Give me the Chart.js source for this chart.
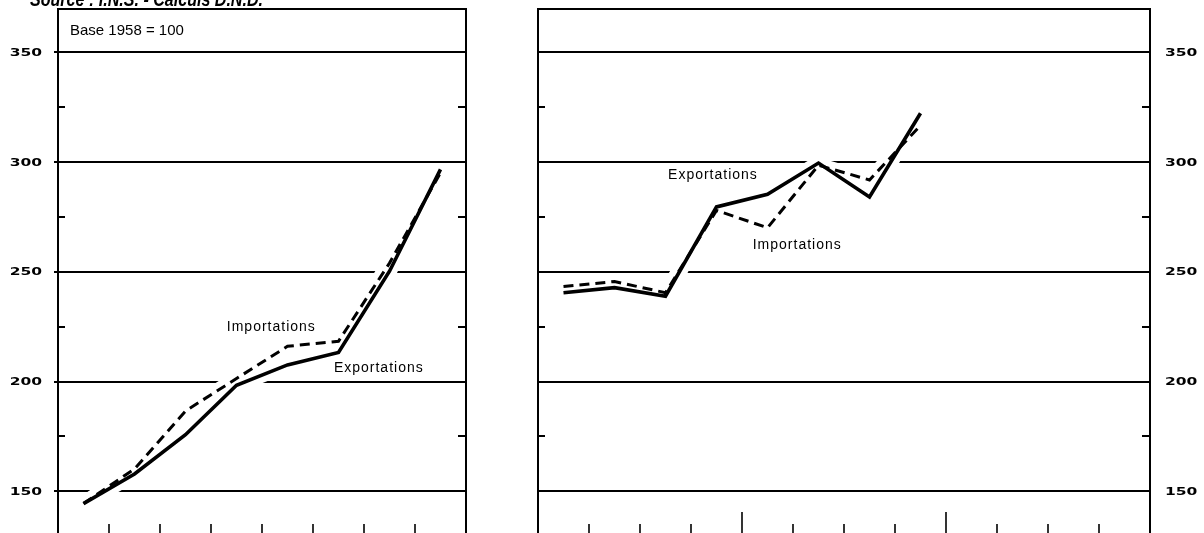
<!DOCTYPE html>
<html><head><meta charset="utf-8">
<script src="https://cdn.jsdelivr.net/npm/chart.js@4"></script>
<style>
html,body{margin:0;padding:0;background:#fff;width:1204px;height:533px;overflow:hidden}
canvas{position:absolute;left:0;top:0}
</style></head><body>
<canvas id="c1" width="1204" height="533"></canvas>
<canvas id="c2" width="1204" height="533"></canvas>
<script>
// ---------- data ----------
const leftCategories = ['1', '2', '3', '4', '5', '6', '7', '8'];
const leftExportations = [144.4, 157.9, 175.8, 198.3, 207.6, 213.3, 250.3, 296.7];
const leftImportations = [144.4, 160.2, 186.6, 201.4, 216.1, 218.4, 254.0, 295.2];

const rightCategories = ['I', 'II', 'III', 'IV', 'I', 'II', 'III', 'IV', 'I', 'II', 'III', 'IV'];
const rightExportations = [240.5, 242.8, 238.9, 279.6, 285.4, 299.6, 284.1, 322.3];
const rightImportations = [243.3, 245.6, 240.5, 278.0, 270.1, 298.6, 291.9, 316.7];

const yTickValues = [150, 200, 250, 300, 350];
const yMinorTickValues = [175, 225, 275, 325];
const yMin = 131, yMax = 369.8;

const seriesNames = ['Exportations', 'Importations'];
const baseText = 'Base 1958 = 100';
const sourceText = 'Source : I.N.S. - Calculs D.N.D.';

// ---------- drawing helpers ----------
function drawExtLabel(ctx, text, x, y, align) {
  ctx.save();
  ctx.font = 'bold 10px "DejaVu Sans"';
  const sx = 1.55;
  const w = ctx.measureText(text).width * sx;
  const left = align === 'right' ? x - w : x;
  ctx.translate(left, y);
  ctx.scale(sx, 1);
  ctx.textAlign = 'left';
  ctx.textBaseline = 'middle';
  ctx.fillStyle = '#000';
  ctx.fillText(text, 0, 0);
  ctx.restore();
}

const framePlugin = {
  id: 'frame',
  beforeDatasetsDraw(chart, args, o) {
    const {ctx, chartArea: a} = chart;
    const y = chart.scales.y;
    ctx.save();
    ctx.strokeStyle = '#000';
    ctx.lineWidth = 2;
    yTickValues.forEach(v => {
      const py = Math.round(y.getPixelForValue(v));
      ctx.beginPath();
      ctx.moveTo(a.left - o.gridOutLeft, py);
      ctx.lineTo(a.right + o.gridOutRight, py);
      ctx.stroke();
    });
    ctx.restore();
  },
  afterDatasetsDraw(chart, args, o) {
    const {ctx, chartArea: a} = chart;
    const x = chart.scales.x, y = chart.scales.y;
    ctx.save();
    ctx.strokeStyle = '#000';
    ctx.lineWidth = 2;
    // frame: left, top, right
    ctx.beginPath();
    ctx.moveTo(a.left, a.bottom + 2);
    ctx.lineTo(a.left, a.top);
    ctx.lineTo(a.right, a.top);
    ctx.lineTo(a.right, a.bottom + 2);
    ctx.stroke();
    // minor y ticks on both inner sides
    yMinorTickValues.forEach(v => {
      const py = Math.round(y.getPixelForValue(v));
      ctx.beginPath();
      ctx.moveTo(a.left, py); ctx.lineTo(a.left + 7, py);
      ctx.moveTo(a.right, py); ctx.lineTo(a.right - 8, py);
      ctx.stroke();
    });
    // x ticks at category boundaries
    ctx.lineWidth = 1.6;
    const n = chart.data.labels.length;
    for (let i = 0; i < n - 1; i++) {
      const px = Math.round((x.getPixelForValue(i) + x.getPixelForValue(i + 1)) / 2);
      const tall = o.tallTicks.includes(i + 1);
      ctx.beginPath();
      ctx.moveTo(px, a.bottom);
      ctx.lineTo(px, a.bottom - (tall ? 21 : 9));
      ctx.stroke();
    }
    ctx.restore();
    // y tick labels
    yTickValues.forEach(v => {
      const py = y.getPixelForValue(v);
      if (o.labelSide === 'left') drawExtLabel(ctx, String(v), a.left - 16, py + 1, 'right');
      else drawExtLabel(ctx, String(v), a.right + 15, py + 1, 'left');
    });
    // series annotations
    ctx.save();
    ctx.fillStyle = '#000';
    ctx.font = '14px "Liberation Sans"';
    ctx.letterSpacing = '1px';
    ctx.textAlign = 'left';
    ctx.textBaseline = 'middle';
    o.notes.forEach(nt => {
      ctx.fillText(nt.text, x.getPixelForValue(nt.at), y.getPixelForValue(nt.value));
    });
    ctx.restore();
    // extra texts
    if (o.base) {
      ctx.save();
      ctx.fillStyle = '#000';
      ctx.font = '15px "Liberation Sans"';
      ctx.textBaseline = 'middle';
      ctx.fillText(baseText, a.left + 12, y.getPixelForValue(360));
      ctx.restore();
      ctx.save();
      ctx.fillStyle = '#000';
      ctx.font = 'bold italic 20px "Liberation Sans"';
      const w = ctx.measureText(sourceText).width;
      ctx.translate(30, 6);
      ctx.scale(233 / w, 1);
      ctx.textBaseline = 'alphabetic';
      ctx.fillText(sourceText, 0, 0);
      ctx.restore();
    }
  }
};

function makeDatasets(exp, imp) {
  return [
    {label: 'halo-e', data: exp, borderColor: '#fff', borderWidth: 15, pointRadius: 0, order: 10, borderCapStyle: 'butt', borderJoinStyle: 'round'},
    {label: 'halo-i', data: imp, borderColor: '#fff', borderWidth: 15, pointRadius: 0, order: 9, borderCapStyle: 'butt', borderJoinStyle: 'round'},
    {label: seriesNames[1], data: imp, borderColor: '#000', borderWidth: 3, borderDash: [10, 6], pointRadius: 0, order: 2, borderJoinStyle: 'miter'},
    {label: seriesNames[0], data: exp, borderColor: '#000', borderWidth: 3.6, pointRadius: 0, order: 1, borderJoinStyle: 'miter'}
  ];
}

function makeChart(id, labels, exp, imp, padding, frameOpts) {
  return new Chart(document.getElementById(id), {
    type: 'line',
    data: {labels: labels, datasets: makeDatasets(exp, imp)},
    options: {
      responsive: false,
      animation: false,
      events: [],
      layout: {padding: padding},
      scales: {
        x: {type: 'category', offset: true, display: false},
        y: {type: 'linear', min: yMin, max: yMax, display: false}
      },
      plugins: {legend: {display: false}, tooltip: {enabled: false}, frame: frameOpts}
    },
    plugins: [framePlugin]
  });
}

makeChart('c1', leftCategories, leftExportations, leftImportations,
  {left: 58, right: 738, top: 9, bottom: 0},
  {labelSide: 'left', gridOutLeft: 4, gridOutRight: 0, tallTicks: [], base: true,
   notes: [{text: seriesNames[1], at: 2.81, value: 224.9}, {text: seriesNames[0], at: 4.91, value: 206.2}]});

makeChart('c2', rightCategories, rightExportations, rightImportations,
  {left: 538, right: 54, top: 9, bottom: 0},
  {labelSide: 'right', gridOutLeft: 0, gridOutRight: 0, tallTicks: [4, 8], base: false,
   notes: [{text: seriesNames[0], at: 2.05, value: 294.2}, {text: seriesNames[1], at: 3.71, value: 262.3}]});
</script>
</body></html>
